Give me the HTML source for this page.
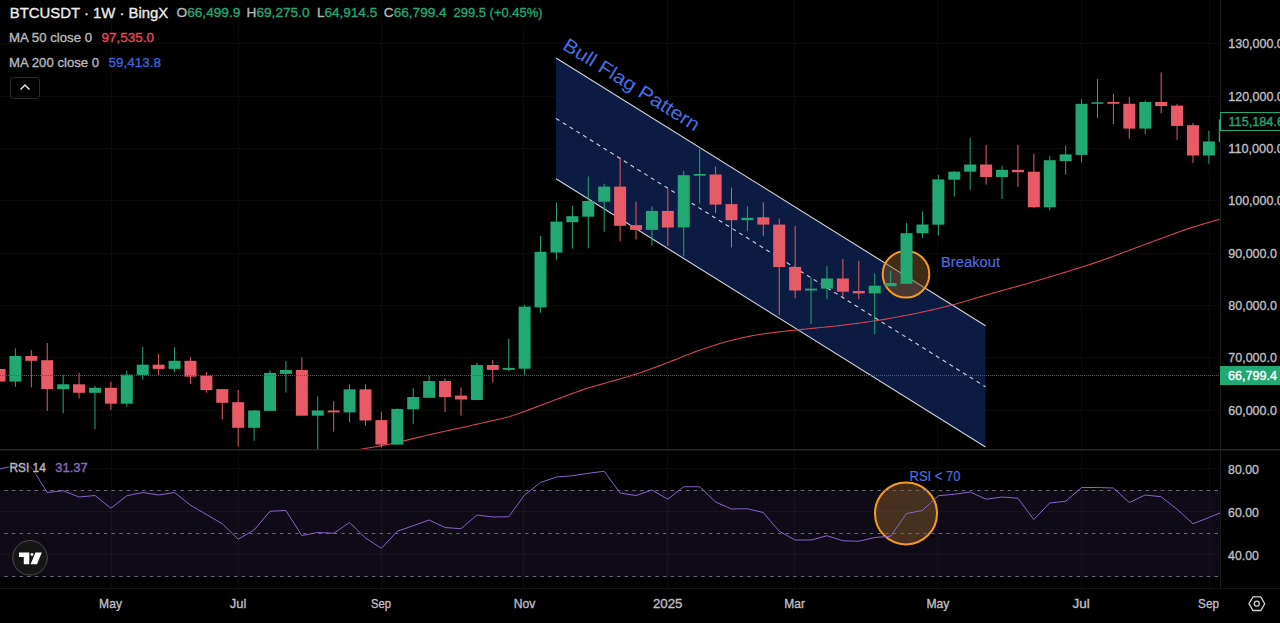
<!DOCTYPE html>
<html><head><meta charset="utf-8"><style>
html,body{margin:0;padding:0;background:#000;width:1280px;height:623px;overflow:hidden}
svg{display:block;font-family:"Liberation Sans", sans-serif}

</style></head><body>
<svg width="1280" height="623" viewBox="0 0 1280 623">
<defs><clipPath id="pane"><rect x="0" y="0" width="1220" height="449"/></clipPath>
<clipPath id="rpane"><rect x="0" y="451" width="1220" height="137"/></clipPath></defs>
<rect width="1280" height="623" fill="#000"/>
<rect x="0" y="490" width="1220" height="87" fill="#0e0a16"/>
<rect x="111" y="0" width="1" height="588" fill="rgba(255,255,255,0.04)"/><rect x="238" y="0" width="1" height="588" fill="rgba(255,255,255,0.04)"/><rect x="381" y="0" width="1" height="588" fill="rgba(255,255,255,0.04)"/><rect x="523" y="0" width="1" height="588" fill="rgba(255,255,255,0.04)"/><rect x="667" y="0" width="1" height="588" fill="rgba(255,255,255,0.04)"/><rect x="794" y="0" width="1" height="588" fill="rgba(255,255,255,0.04)"/><rect x="937" y="0" width="1" height="588" fill="rgba(255,255,255,0.04)"/><rect x="1081" y="0" width="1" height="588" fill="rgba(255,255,255,0.04)"/><rect x="1209" y="0" width="1" height="588" fill="rgba(255,255,255,0.04)"/><rect x="0" y="43" width="1220" height="1" fill="rgba(255,255,255,0.04)"/><rect x="0" y="96" width="1220" height="1" fill="rgba(255,255,255,0.04)"/><rect x="0" y="148" width="1220" height="1" fill="rgba(255,255,255,0.04)"/><rect x="0" y="200" width="1220" height="1" fill="rgba(255,255,255,0.04)"/><rect x="0" y="253" width="1220" height="1" fill="rgba(255,255,255,0.04)"/><rect x="0" y="305" width="1220" height="1" fill="rgba(255,255,255,0.04)"/><rect x="0" y="357" width="1220" height="1" fill="rgba(255,255,255,0.04)"/><rect x="0" y="410" width="1220" height="1" fill="rgba(255,255,255,0.04)"/><rect x="0" y="468" width="1220" height="1" fill="rgba(255,255,255,0.04)"/><rect x="0" y="511" width="1220" height="1" fill="rgba(255,255,255,0.04)"/><rect x="0" y="554" width="1220" height="1" fill="rgba(255,255,255,0.04)"/>
<rect x="0" y="449" width="1280" height="1" fill="#262626"/><rect x="0" y="450" width="1280" height="1" fill="#141414"/>
<rect x="0" y="588" width="1280" height="1" fill="#161616"/>
<rect x="1220" y="0" width="1" height="588" fill="#1a1a1a"/>
<g clip-path="url(#pane)">
<polygon points="556,58 985.5,325.7 985.5,447 556,178.7" fill="#0c1b41"/>
<line x1="556" y1="58" x2="985.5" y2="325.7" stroke="#cfcfd6" stroke-width="1.15"/>
<line x1="556" y1="178.7" x2="985.5" y2="447" stroke="#cfcfd6" stroke-width="1.15"/>
<line x1="556" y1="118.4" x2="985.5" y2="386.8" stroke="#cfcfd6" stroke-width="1.15" stroke-dasharray="4 4"/>
<polyline points="356.0,450.10 359.0,449.57 362.0,449.05 365.0,448.53 368.0,448.01 371.0,447.49 374.0,446.96 377.0,446.44 380.0,445.91 383.0,445.37 386.0,444.81 389.0,444.23 392.0,443.62 395.0,442.97 398.0,442.29 401.0,441.59 404.0,440.86 407.0,440.13 410.0,439.38 413.0,438.64 416.0,437.90 419.0,437.15 422.0,436.42 425.0,435.70 428.0,434.99 431.0,434.30 434.0,433.62 437.0,432.96 440.0,432.31 443.0,431.68 446.0,431.04 449.0,430.40 452.0,429.76 455.0,429.12 458.0,428.47 461.0,427.80 464.0,427.13 467.0,426.44 470.0,425.75 473.0,425.06 476.0,424.36 479.0,423.67 482.0,422.99 485.0,422.31 488.0,421.65 491.0,420.98 494.0,420.33 497.0,419.66 500.0,418.98 503.0,418.27 506.0,417.50 509.0,416.68 512.0,415.78 515.0,414.81 518.0,413.79 521.0,412.72 524.0,411.62 527.0,410.50 530.0,409.38 533.0,408.25 536.0,407.12 539.0,406.00 542.0,404.87 545.0,403.74 548.0,402.61 551.0,401.49 554.0,400.36 557.0,399.23 560.0,398.11 563.0,396.98 566.0,395.86 569.0,394.74 572.0,393.63 575.0,392.53 578.0,391.45 581.0,390.39 584.0,389.38 587.0,388.41 590.0,387.48 593.0,386.58 596.0,385.71 599.0,384.86 602.0,384.02 605.0,383.18 608.0,382.34 611.0,381.50 614.0,380.65 617.0,379.80 620.0,378.93 623.0,378.06 626.0,377.17 629.0,376.27 632.0,375.35 635.0,374.40 638.0,373.43 641.0,372.43 644.0,371.39 647.0,370.32 650.0,369.23 653.0,368.13 656.0,367.01 659.0,365.89 662.0,364.76 665.0,363.61 668.0,362.46 671.0,361.30 674.0,360.12 677.0,358.93 680.0,357.74 683.0,356.54 686.0,355.35 689.0,354.17 692.0,353.01 695.0,351.88 698.0,350.78 701.0,349.71 704.0,348.68 707.0,347.67 710.0,346.68 713.0,345.71 716.0,344.76 719.0,343.82 722.0,342.92 725.0,342.06 728.0,341.23 731.0,340.45 734.0,339.71 737.0,339.00 740.0,338.31 743.0,337.64 746.0,336.98 749.0,336.35 752.0,335.76 755.0,335.21 758.0,334.70 761.0,334.23 764.0,333.80 767.0,333.39 770.0,333.01 773.0,332.63 776.0,332.26 779.0,331.90 782.0,331.55 785.0,331.21 788.0,330.88 791.0,330.56 794.0,330.24 797.0,329.94 800.0,329.63 803.0,329.33 806.0,329.02 809.0,328.72 812.0,328.42 815.0,328.12 818.0,327.82 821.0,327.51 824.0,327.21 827.0,326.90 830.0,326.59 833.0,326.28 836.0,325.95 839.0,325.61 842.0,325.26 845.0,324.89 848.0,324.51 851.0,324.12 854.0,323.73 857.0,323.33 860.0,322.93 863.0,322.53 866.0,322.12 869.0,321.71 872.0,321.28 875.0,320.83 878.0,320.36 881.0,319.88 884.0,319.37 887.0,318.84 890.0,318.31 893.0,317.77 896.0,317.22 899.0,316.67 902.0,316.12 905.0,315.56 908.0,314.99 911.0,314.41 914.0,313.81 917.0,313.19 920.0,312.56 923.0,311.90 926.0,311.24 929.0,310.56 932.0,309.89 935.0,309.20 938.0,308.51 941.0,307.81 944.0,307.09 947.0,306.35 950.0,305.57 953.0,304.77 956.0,303.93 959.0,303.08 962.0,302.20 965.0,301.31 968.0,300.42 971.0,299.53 974.0,298.63 977.0,297.74 980.0,296.85 983.0,295.97 986.0,295.10 989.0,294.23 992.0,293.38 995.0,292.53 998.0,291.69 1001.0,290.86 1004.0,290.03 1007.0,289.21 1010.0,288.38 1013.0,287.55 1016.0,286.72 1019.0,285.89 1022.0,285.05 1025.0,284.20 1028.0,283.34 1031.0,282.47 1034.0,281.59 1037.0,280.70 1040.0,279.81 1043.0,278.92 1046.0,278.02 1049.0,277.13 1052.0,276.23 1055.0,275.33 1058.0,274.43 1061.0,273.52 1064.0,272.61 1067.0,271.68 1070.0,270.75 1073.0,269.82 1076.0,268.88 1079.0,267.93 1082.0,266.98 1085.0,266.03 1088.0,265.08 1091.0,264.11 1094.0,263.13 1097.0,262.14 1100.0,261.11 1103.0,260.06 1106.0,258.99 1109.0,257.89 1112.0,256.78 1115.0,255.66 1118.0,254.54 1121.0,253.41 1124.0,252.29 1127.0,251.16 1130.0,250.04 1133.0,248.91 1136.0,247.78 1139.0,246.66 1142.0,245.53 1145.0,244.41 1148.0,243.29 1151.0,242.18 1154.0,241.07 1157.0,239.96 1160.0,238.86 1163.0,237.75 1166.0,236.65 1169.0,235.55 1172.0,234.46 1175.0,233.36 1178.0,232.28 1181.0,231.20 1184.0,230.14 1187.0,229.11 1190.0,228.11 1193.0,227.14 1196.0,226.20 1199.0,225.29 1202.0,224.40 1205.0,223.52 1208.0,222.64 1211.0,221.77 1214.0,220.90 1217.0,220.03 1219.5,219.30" fill="none" stroke="#cf4352" stroke-width="1.1"/>
<circle cx="906" cy="274.2" r="23.3" fill="rgba(130,85,40,0.5)" stroke="#f59a23" stroke-width="2"/>
<g>
<rect x="-1.01" y="365.0" width="1" height="21.0" fill="#e85a66"/>
<rect x="-6.51" y="368.9" width="12" height="12.7" fill="#e85a66"/>
<rect x="14.90" y="348.3" width="1" height="38.5" fill="#22a873"/>
<rect x="9.40" y="356.0" width="12" height="25.6" fill="#22a873"/>
<rect x="30.82" y="350.2" width="1" height="37.2" fill="#e85a66"/>
<rect x="25.32" y="356.0" width="12" height="4.8" fill="#e85a66"/>
<rect x="46.73" y="343.1" width="1" height="67.8" fill="#e85a66"/>
<rect x="41.23" y="360.2" width="12" height="28.9" fill="#e85a66"/>
<rect x="62.64" y="374.9" width="1" height="38.3" fill="#22a873"/>
<rect x="57.14" y="384.3" width="12" height="4.8" fill="#22a873"/>
<rect x="78.55" y="372.7" width="1" height="25.6" fill="#e85a66"/>
<rect x="73.05" y="384.3" width="12" height="8.5" fill="#e85a66"/>
<rect x="94.47" y="385.8" width="1" height="43.4" fill="#22a873"/>
<rect x="88.97" y="387.8" width="12" height="5.0" fill="#22a873"/>
<rect x="110.38" y="381.6" width="1" height="28.3" fill="#e85a66"/>
<rect x="104.88" y="387.8" width="12" height="15.9" fill="#e85a66"/>
<rect x="126.29" y="370.4" width="1" height="36.2" fill="#22a873"/>
<rect x="120.79" y="374.7" width="12" height="29.0" fill="#22a873"/>
<rect x="142.21" y="346.9" width="1" height="32.8" fill="#22a873"/>
<rect x="136.71" y="364.7" width="12" height="10.2" fill="#22a873"/>
<rect x="158.12" y="354.0" width="1" height="21.2" fill="#e85a66"/>
<rect x="152.62" y="364.7" width="12" height="4.2" fill="#e85a66"/>
<rect x="174.03" y="347.3" width="1" height="25.1" fill="#22a873"/>
<rect x="168.53" y="360.8" width="12" height="8.1" fill="#22a873"/>
<rect x="189.95" y="357.3" width="1" height="26.6" fill="#e85a66"/>
<rect x="184.45" y="360.8" width="12" height="15.8" fill="#e85a66"/>
<rect x="205.86" y="372.0" width="1" height="20.6" fill="#e85a66"/>
<rect x="200.36" y="375.6" width="12" height="14.5" fill="#e85a66"/>
<rect x="221.77" y="389.1" width="1" height="30.4" fill="#e85a66"/>
<rect x="216.27" y="389.1" width="12" height="13.7" fill="#e85a66"/>
<rect x="237.69" y="390.0" width="1" height="56.5" fill="#e85a66"/>
<rect x="232.19" y="402.2" width="12" height="25.6" fill="#e85a66"/>
<rect x="253.60" y="410.0" width="1" height="30.7" fill="#22a873"/>
<rect x="248.10" y="410.5" width="12" height="17.3" fill="#22a873"/>
<rect x="269.51" y="370.4" width="1" height="40.5" fill="#22a873"/>
<rect x="264.01" y="372.9" width="12" height="38.0" fill="#22a873"/>
<rect x="285.42" y="360.8" width="1" height="31.8" fill="#22a873"/>
<rect x="279.92" y="370.0" width="12" height="3.9" fill="#22a873"/>
<rect x="301.34" y="357.3" width="1" height="58.4" fill="#e85a66"/>
<rect x="295.84" y="370.0" width="12" height="45.7" fill="#e85a66"/>
<rect x="317.25" y="396.4" width="1" height="53.6" fill="#22a873"/>
<rect x="311.75" y="410.5" width="12" height="5.2" fill="#22a873"/>
<rect x="333.16" y="401.2" width="1" height="30.5" fill="#e85a66"/>
<rect x="327.66" y="410.5" width="12" height="1.9" fill="#e85a66"/>
<rect x="349.08" y="384.3" width="1" height="38.1" fill="#22a873"/>
<rect x="343.58" y="389.3" width="12" height="23.1" fill="#22a873"/>
<rect x="364.99" y="384.3" width="1" height="41.0" fill="#e85a66"/>
<rect x="359.49" y="389.3" width="12" height="31.2" fill="#e85a66"/>
<rect x="380.90" y="411.8" width="1" height="35.6" fill="#e85a66"/>
<rect x="375.40" y="420.1" width="12" height="24.5" fill="#e85a66"/>
<rect x="396.81" y="408.5" width="1" height="36.1" fill="#22a873"/>
<rect x="391.31" y="408.9" width="12" height="35.7" fill="#22a873"/>
<rect x="412.73" y="387.8" width="1" height="36.2" fill="#22a873"/>
<rect x="407.23" y="397.0" width="12" height="12.3" fill="#22a873"/>
<rect x="428.64" y="375.8" width="1" height="22.0" fill="#22a873"/>
<rect x="423.14" y="381.0" width="12" height="16.8" fill="#22a873"/>
<rect x="444.55" y="378.5" width="1" height="33.5" fill="#e85a66"/>
<rect x="439.05" y="381.0" width="12" height="16.0" fill="#e85a66"/>
<rect x="460.47" y="387.4" width="1" height="28.2" fill="#e85a66"/>
<rect x="454.97" y="395.6" width="12" height="3.9" fill="#e85a66"/>
<rect x="476.38" y="362.6" width="1" height="37.4" fill="#22a873"/>
<rect x="470.88" y="365.0" width="12" height="35.0" fill="#22a873"/>
<rect x="492.29" y="360.2" width="1" height="22.4" fill="#e85a66"/>
<rect x="486.79" y="365.0" width="12" height="4.9" fill="#e85a66"/>
<rect x="508.21" y="338.6" width="1" height="32.4" fill="#22a873"/>
<rect x="502.71" y="367.9" width="12" height="2.0" fill="#22a873"/>
<rect x="524.12" y="304.9" width="1" height="69.8" fill="#22a873"/>
<rect x="518.62" y="306.6" width="12" height="62.1" fill="#22a873"/>
<rect x="540.03" y="235.9" width="1" height="76.8" fill="#22a873"/>
<rect x="534.53" y="251.8" width="12" height="55.6" fill="#22a873"/>
<rect x="555.95" y="202.5" width="1" height="57.1" fill="#22a873"/>
<rect x="550.45" y="221.6" width="12" height="30.9" fill="#22a873"/>
<rect x="571.86" y="206.0" width="1" height="42.5" fill="#22a873"/>
<rect x="566.36" y="216.2" width="12" height="6.0" fill="#22a873"/>
<rect x="587.77" y="176.5" width="1" height="71.7" fill="#22a873"/>
<rect x="582.27" y="201.0" width="12" height="15.7" fill="#22a873"/>
<rect x="603.68" y="183.7" width="1" height="48.1" fill="#22a873"/>
<rect x="598.18" y="186.6" width="12" height="15.1" fill="#22a873"/>
<rect x="619.60" y="157.2" width="1" height="84.2" fill="#e85a66"/>
<rect x="614.10" y="186.6" width="12" height="39.2" fill="#e85a66"/>
<rect x="635.51" y="201.7" width="1" height="37.8" fill="#e85a66"/>
<rect x="630.01" y="225.1" width="12" height="4.8" fill="#e85a66"/>
<rect x="651.42" y="206.5" width="1" height="39.3" fill="#22a873"/>
<rect x="645.92" y="210.9" width="12" height="19.0" fill="#22a873"/>
<rect x="667.34" y="188.5" width="1" height="57.7" fill="#e85a66"/>
<rect x="661.84" y="210.9" width="12" height="16.6" fill="#e85a66"/>
<rect x="683.25" y="170.9" width="1" height="85.4" fill="#22a873"/>
<rect x="677.75" y="175.2" width="12" height="52.2" fill="#22a873"/>
<rect x="699.16" y="149.2" width="1" height="54.2" fill="#22a873"/>
<rect x="693.66" y="174.0" width="12" height="1.7" fill="#22a873"/>
<rect x="715.08" y="166.6" width="1" height="46.4" fill="#e85a66"/>
<rect x="709.58" y="174.5" width="12" height="30.1" fill="#e85a66"/>
<rect x="730.99" y="187.7" width="1" height="59.7" fill="#e85a66"/>
<rect x="725.49" y="204.1" width="12" height="16.1" fill="#e85a66"/>
<rect x="746.90" y="206.5" width="1" height="24.6" fill="#22a873"/>
<rect x="741.40" y="217.8" width="12" height="2.4" fill="#22a873"/>
<rect x="762.81" y="202.2" width="1" height="33.7" fill="#e85a66"/>
<rect x="757.31" y="217.3" width="12" height="7.3" fill="#e85a66"/>
<rect x="778.73" y="218.5" width="1" height="96.5" fill="#e85a66"/>
<rect x="773.23" y="224.6" width="12" height="42.4" fill="#e85a66"/>
<rect x="794.64" y="226.0" width="1" height="72.2" fill="#e85a66"/>
<rect x="789.14" y="266.9" width="12" height="23.6" fill="#e85a66"/>
<rect x="810.55" y="277.7" width="1" height="46.3" fill="#22a873"/>
<rect x="805.05" y="288.6" width="12" height="1.9" fill="#22a873"/>
<rect x="826.47" y="266.2" width="1" height="33.2" fill="#22a873"/>
<rect x="820.97" y="278.5" width="12" height="10.1" fill="#22a873"/>
<rect x="842.38" y="259.0" width="1" height="38.0" fill="#e85a66"/>
<rect x="836.88" y="278.5" width="12" height="13.2" fill="#e85a66"/>
<rect x="858.29" y="260.9" width="1" height="38.5" fill="#e85a66"/>
<rect x="852.79" y="291.0" width="12" height="2.4" fill="#e85a66"/>
<rect x="874.21" y="273.4" width="1" height="60.9" fill="#22a873"/>
<rect x="868.71" y="285.7" width="12" height="7.7" fill="#22a873"/>
<rect x="890.12" y="271.0" width="1" height="14.0" fill="#22a873"/>
<rect x="884.62" y="283.0" width="12" height="3.2" fill="#22a873"/>
<rect x="906.03" y="222.9" width="1" height="60.9" fill="#22a873"/>
<rect x="900.53" y="233.2" width="12" height="50.6" fill="#22a873"/>
<rect x="921.94" y="211.4" width="1" height="26.5" fill="#22a873"/>
<rect x="916.44" y="224.5" width="12" height="8.7" fill="#22a873"/>
<rect x="937.86" y="174.9" width="1" height="60.6" fill="#22a873"/>
<rect x="932.36" y="179.4" width="12" height="45.3" fill="#22a873"/>
<rect x="953.77" y="171.0" width="1" height="25.5" fill="#22a873"/>
<rect x="948.27" y="171.7" width="12" height="8.0" fill="#22a873"/>
<rect x="969.68" y="138.0" width="1" height="51.8" fill="#22a873"/>
<rect x="964.18" y="164.5" width="12" height="7.2" fill="#22a873"/>
<rect x="985.60" y="144.8" width="1" height="39.7" fill="#e85a66"/>
<rect x="980.10" y="164.5" width="12" height="12.5" fill="#e85a66"/>
<rect x="1001.51" y="165.7" width="1" height="33.2" fill="#22a873"/>
<rect x="996.01" y="169.8" width="12" height="7.2" fill="#22a873"/>
<rect x="1017.42" y="144.8" width="1" height="42.1" fill="#e85a66"/>
<rect x="1011.92" y="169.8" width="12" height="2.4" fill="#e85a66"/>
<rect x="1033.34" y="153.7" width="1" height="54.1" fill="#e85a66"/>
<rect x="1027.84" y="171.7" width="12" height="35.6" fill="#e85a66"/>
<rect x="1049.25" y="156.1" width="1" height="54.1" fill="#22a873"/>
<rect x="1043.75" y="160.2" width="12" height="47.1" fill="#22a873"/>
<rect x="1065.16" y="145.4" width="1" height="29.2" fill="#22a873"/>
<rect x="1059.66" y="154.4" width="12" height="6.7" fill="#22a873"/>
<rect x="1081.07" y="99.3" width="1" height="63.0" fill="#22a873"/>
<rect x="1075.57" y="103.8" width="12" height="51.1" fill="#22a873"/>
<rect x="1096.99" y="79.1" width="1" height="38.9" fill="#22a873"/>
<rect x="1091.49" y="102.3" width="12" height="1.5" fill="#22a873"/>
<rect x="1112.90" y="93.7" width="1" height="30.3" fill="#e85a66"/>
<rect x="1107.40" y="102.0" width="12" height="1.8" fill="#e85a66"/>
<rect x="1128.81" y="97.1" width="1" height="41.6" fill="#e85a66"/>
<rect x="1123.31" y="103.8" width="12" height="24.8" fill="#e85a66"/>
<rect x="1144.73" y="100.5" width="1" height="33.7" fill="#22a873"/>
<rect x="1139.23" y="102.0" width="12" height="26.6" fill="#22a873"/>
<rect x="1160.64" y="72.4" width="1" height="41.1" fill="#e85a66"/>
<rect x="1155.14" y="102.0" width="12" height="4.1" fill="#e85a66"/>
<rect x="1176.55" y="103.8" width="1" height="36.0" fill="#e85a66"/>
<rect x="1171.05" y="105.6" width="12" height="20.3" fill="#e85a66"/>
<rect x="1192.46" y="122.9" width="1" height="40.0" fill="#e85a66"/>
<rect x="1186.96" y="125.2" width="12" height="30.3" fill="#e85a66"/>
<rect x="1208.38" y="130.8" width="1" height="33.0" fill="#22a873"/>
<rect x="1202.88" y="141.4" width="12" height="14.1" fill="#22a873"/>
<rect x="1224.29" y="119.0" width="1" height="23.0" fill="#22a873"/>
<rect x="1218.79" y="119.5" width="12" height="22.5" fill="#22a873"/>
</g>
<line x1="0" y1="375.5" x2="1220" y2="375.5" stroke="#5a5a5a" stroke-width="1" stroke-dasharray="1 1"/>
</g>
<text transform="translate(561.6,48.6) rotate(31.97)" font-size="19" fill="#4470e6" textLength="157" lengthAdjust="spacingAndGlyphs">Bull Flag Pattern</text>
<text x="941" y="267.2" font-size="14" fill="#4a6fe0" stroke="#4a6fe0" stroke-width="0.15" textLength="59" lengthAdjust="spacingAndGlyphs">Breakout</text>
<g clip-path="url(#rpane)">
<circle cx="906" cy="513.4" r="31" fill="rgba(130,85,40,0.5)" stroke="#f59a23" stroke-width="2"/>
<line x1="4.3" y1="490.5" x2="1220" y2="490.5" stroke="#6b6b75" stroke-dasharray="3.3 4.36"/>
<line x1="4.3" y1="533.5" x2="1220" y2="533.5" stroke="#6b6b75" stroke-dasharray="3.3 4.36"/>
<line x1="4.3" y1="576.5" x2="1220" y2="576.5" stroke="#6b6b75" stroke-dasharray="3.3 4.36"/>
<polyline points="-0.5,469 15.4,465.5 31.3,467 47.2,492.5 63.1,490.75 79.1,497 95.0,495.5 110.9,508.25 126.8,495.75 142.7,492.5 158.6,495 174.5,492.5 190.4,505 206.4,514.5 222.3,523.75 238.2,539.25 254.1,530 270.0,511.25 285.9,510.5 301.8,535.5 317.8,532.5 333.7,533.25 349.6,522.5 365.5,538 381.4,548.25 397.3,531.25 413.2,525.75 429.1,520 445.1,527.5 461.0,528.75 476.9,515 492.8,517 508.7,516.75 524.6,495 540.5,482.5 556.4,477 572.4,475.75 588.3,473.25 604.2,471.25 620.1,493 636.0,495.5 651.9,490 667.8,499.25 683.7,486.75 699.7,486.75 715.6,502 731.5,509 747.4,508.75 763.3,512.5 779.2,531.25 795.1,540 811.1,540 827.0,535.75 842.9,540.75 858.8,541.25 874.7,537.5 890.6,536.25 906.5,513.5 922.4,510.5 938.4,495.75 954.3,494.25 970.2,492 986.1,499.25 1002.0,497 1017.9,498.25 1033.8,519.5 1049.7,503 1065.7,501.25 1081.6,487.5 1097.5,487.5 1113.4,488 1129.3,502.5 1145.2,495 1161.1,496.75 1177.1,509.25 1193.0,523.75 1208.9,517.5 1224.8,511" fill="none" stroke="#8a62c9" stroke-width="1"/>
</g>
<text x="909.5" y="480.5" font-size="14" fill="#4a6fe0" stroke="#4a6fe0" stroke-width="0.15" textLength="51" lengthAdjust="spacingAndGlyphs">RSI &lt; 70</text>
<rect x="1220.5" y="112.5" width="62" height="18" fill="#000" stroke="#22a873"/>
<rect x="1220" y="366" width="60" height="19" fill="#22a873"/>
<g><text x="1228.3" y="48.0" font-size="12.5" fill="#bfbfc4" stroke="#bfbfc4" stroke-width="0.35" textLength="55.5" lengthAdjust="spacingAndGlyphs">130,000.0</text><text x="1228.3" y="100.8" font-size="12.5" fill="#bfbfc4" stroke="#bfbfc4" stroke-width="0.35" textLength="55.5" lengthAdjust="spacingAndGlyphs">120,000.0</text><text x="1228.3" y="153.0" font-size="12.5" fill="#bfbfc4" stroke="#bfbfc4" stroke-width="0.35" textLength="55.5" lengthAdjust="spacingAndGlyphs">110,000.0</text><text x="1228.3" y="205.4" font-size="12.5" fill="#bfbfc4" stroke="#bfbfc4" stroke-width="0.35" textLength="55.5" lengthAdjust="spacingAndGlyphs">100,000.0</text><text x="1228.3" y="257.7" font-size="12.5" fill="#bfbfc4" stroke="#bfbfc4" stroke-width="0.35" textLength="48.6" lengthAdjust="spacingAndGlyphs">90,000.0</text><text x="1228.3" y="310.0" font-size="12.5" fill="#bfbfc4" stroke="#bfbfc4" stroke-width="0.35" textLength="48.6" lengthAdjust="spacingAndGlyphs">80,000.0</text><text x="1228.3" y="362.3" font-size="12.5" fill="#bfbfc4" stroke="#bfbfc4" stroke-width="0.35" textLength="48.6" lengthAdjust="spacingAndGlyphs">70,000.0</text><text x="1228.3" y="415.0" font-size="12.5" fill="#bfbfc4" stroke="#bfbfc4" stroke-width="0.35" textLength="48.6" lengthAdjust="spacingAndGlyphs">60,000.0</text><text x="1228.1" y="473.6" font-size="12.5" fill="#bfbfc4" stroke="#bfbfc4" stroke-width="0.35" textLength="30.7" lengthAdjust="spacingAndGlyphs">80.00</text><text x="1228.1" y="516.8" font-size="12.5" fill="#bfbfc4" stroke="#bfbfc4" stroke-width="0.35" textLength="30.7" lengthAdjust="spacingAndGlyphs">60.00</text><text x="1228.1" y="559.9" font-size="12.5" fill="#bfbfc4" stroke="#bfbfc4" stroke-width="0.35" textLength="30.7" lengthAdjust="spacingAndGlyphs">40.00</text><text x="99.10000000000001" y="608.3" font-size="12.8" fill="#bfbfc4" stroke="#bfbfc4" stroke-width="0.35" textLength="22.9" lengthAdjust="spacingAndGlyphs">May</text><text x="229.79999999999998" y="608.3" font-size="12.8" fill="#bfbfc4" stroke="#bfbfc4" stroke-width="0.35" textLength="16.5" lengthAdjust="spacingAndGlyphs">Jul</text><text x="371.09999999999997" y="608.3" font-size="12.8" fill="#bfbfc4" stroke="#bfbfc4" stroke-width="0.35" textLength="20.0" lengthAdjust="spacingAndGlyphs">Sep</text><text x="513.7" y="608.3" font-size="12.8" fill="#bfbfc4" stroke="#bfbfc4" stroke-width="0.35" textLength="21.6" lengthAdjust="spacingAndGlyphs">Nov</text><text x="652.9000000000001" y="608.3" font-size="12.8" fill="#bfbfc4" stroke="#bfbfc4" stroke-width="0.35" textLength="29.5" lengthAdjust="spacingAndGlyphs">2025</text><text x="784.3000000000001" y="608.3" font-size="12.8" fill="#bfbfc4" stroke="#bfbfc4" stroke-width="0.35" textLength="20.6" lengthAdjust="spacingAndGlyphs">Mar</text><text x="926.4000000000001" y="608.3" font-size="12.8" fill="#bfbfc4" stroke="#bfbfc4" stroke-width="0.35" textLength="22.9" lengthAdjust="spacingAndGlyphs">May</text><text x="1072.5" y="608.3" font-size="12.8" fill="#bfbfc4" stroke="#bfbfc4" stroke-width="0.35" textLength="17.2" lengthAdjust="spacingAndGlyphs">Jul</text><text x="1198.1000000000001" y="608.3" font-size="12.8" fill="#bfbfc4" stroke="#bfbfc4" stroke-width="0.35" textLength="20.8" lengthAdjust="spacingAndGlyphs">Sep</text></g>
<text x="1228.5" y="125.6" font-size="12.5" fill="#22a873" stroke="#22a873" stroke-width="0.35" textLength="55.5" lengthAdjust="spacingAndGlyphs">115,184.6</text>
<text x="1228.1" y="380" font-size="12.5" fill="#ffffff" stroke="#ffffff" stroke-width="0.35" textLength="49" lengthAdjust="spacingAndGlyphs">66,799.4</text>
<polygon points="1249,603.7 1253,596.9 1260.8,596.9 1264.7,603.7 1260.8,610.5 1253,610.5" fill="none" stroke="#d0d0d0" stroke-width="1.3"/>
<circle cx="1256.8" cy="603.7" r="2.5" fill="none" stroke="#d0d0d0" stroke-width="1.3"/>
<rect x="8" y="460" width="82" height="15" fill="rgba(0,0,0,0.5)"/>
<g><text x="9.8" y="17.6" font-size="15.5" fill="#ececec" stroke="#ececec" stroke-width="0.35" textLength="158.5" lengthAdjust="spacingAndGlyphs">BTCUSDT · 1W · BingX</text><text x="176.5" y="17.4" font-size="13" textLength="63.9" lengthAdjust="spacingAndGlyphs"><tspan fill="#b8b8bd" stroke="#b8b8bd" stroke-width="0.35">O</tspan><tspan fill="#22a873" stroke="#22a873" stroke-width="0.35">66,499.9</tspan></text><text x="246.6" y="17.4" font-size="13" textLength="62.9" lengthAdjust="spacingAndGlyphs"><tspan fill="#b8b8bd" stroke="#b8b8bd" stroke-width="0.35">H</tspan><tspan fill="#22a873" stroke="#22a873" stroke-width="0.35">69,275.0</tspan></text><text x="317" y="17.4" font-size="13" textLength="60.2" lengthAdjust="spacingAndGlyphs"><tspan fill="#b8b8bd" stroke="#b8b8bd" stroke-width="0.35">L</tspan><tspan fill="#22a873" stroke="#22a873" stroke-width="0.35">64,914.5</tspan></text><text x="383.8" y="17.4" font-size="13" textLength="62.9" lengthAdjust="spacingAndGlyphs"><tspan fill="#b8b8bd" stroke="#b8b8bd" stroke-width="0.35">C</tspan><tspan fill="#22a873" stroke="#22a873" stroke-width="0.35">66,799.4</tspan></text><text x="453.5" y="17.4" font-size="13" fill="#22a873" stroke="#22a873" stroke-width="0.35" textLength="89.1" lengthAdjust="spacingAndGlyphs">299.5 (+0.45%)</text><text x="9.1" y="41.5" font-size="13" fill="#b8b8bd" stroke="#b8b8bd" stroke-width="0.35" textLength="83" lengthAdjust="spacingAndGlyphs">MA 50 close 0</text><text x="101.5" y="41.5" font-size="13" fill="#e5475c" stroke="#e5475c" stroke-width="0.35" textLength="52.5" lengthAdjust="spacingAndGlyphs">97,535.0</text><text x="9.1" y="66.8" font-size="13" fill="#b8b8bd" stroke="#b8b8bd" stroke-width="0.35" textLength="90" lengthAdjust="spacingAndGlyphs">MA 200 close 0</text><text x="108.6" y="66.8" font-size="13" fill="#3d63d8" stroke="#3d63d8" stroke-width="0.35" textLength="52.4" lengthAdjust="spacingAndGlyphs">59,413.8</text><text x="9.4" y="471.7" font-size="12.5" fill="#b8b8bd" stroke="#b8b8bd" stroke-width="0.35" textLength="36.5" lengthAdjust="spacingAndGlyphs">RSI 14</text><text x="55.3" y="471.7" font-size="12.5" fill="#8c68c4" stroke="#8c68c4" stroke-width="0.35" textLength="32.4" lengthAdjust="spacingAndGlyphs">31.37</text></g>
<rect x="10.5" y="77.5" width="29" height="21" rx="3" fill="none" stroke="#2a2a2a"/>
<polyline points="20.5,89.5 25,85 29.5,89.5" fill="none" stroke="#e0e0e0" stroke-width="1.5"/>
<circle cx="30" cy="557.8" r="17.3" fill="#161616" stroke="#4a4a4a" stroke-width="1"/>
<path d="M19,552.4 H29.3 V564.3 H23.8 V556.9 H19 Z" fill="#fff"/>
<circle cx="32.0" cy="554.5" r="1.45" fill="#fff"/>
<path d="M35.4,552.4 H41.8 L37,564.3 H30.6 Z" fill="#fff"/>
</svg>
</body></html>
